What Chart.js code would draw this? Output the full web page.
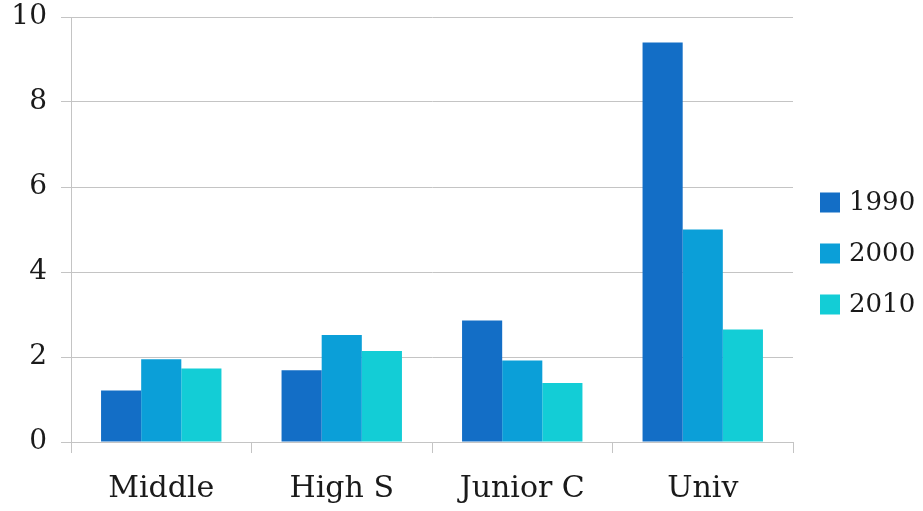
<!DOCTYPE html>
<html>
<head>
<meta charset="utf-8">
<script src="https://cdn.jsdelivr.net/npm/chart.js@4/dist/chart.umd.min.js"></script>
<style>
  html, body { margin: 0; padding: 0; background: #ffffff; }
  #wrap { width: 923px; height: 511px; }
</style>
</head>
<body>
<div id="wrap"><canvas id="c" width="923" height="511"></canvas></div>
<script>
// Categories, series and axis ticks
const categories = ['Middle', 'High S', 'Junior C', 'Univ'];
const seriesNames = ['1990', '2000', '2010'];
const values1990 = [1.21, 1.69, 2.86, 9.40];
const values2000 = [1.95, 2.52, 1.92, 5.00];
const values2010 = [1.73, 2.14, 1.39, 2.65];
const yTicks = [0, 2, 4, 6, 8, 10];

const seriesColors = ['#136ec6', '#0b9fd8', '#13cdd6'];
const gridColor = '#c4c4c4';
const textColor = '#1a1a1a';
const fontFamily = '"DejaVu Serif", "Liberation Serif", serif';

// Legend on the right, drawn from the datasets
const sideLegend = {
  id: 'sideLegend',
  afterDraw(chart) {
    const ctx = chart.ctx;
    const area = chart.chartArea;
    const x0 = area.right + 27;
    const midY = (area.top + area.bottom) / 2 + 24;
    const rowGap = 51;
    ctx.save();
    ctx.font = '26px ' + fontFamily;
    ctx.textBaseline = 'middle';
    ctx.textAlign = 'left';
    chart.data.datasets.forEach((ds, i) => {
      const y = midY + (i - 1) * rowGap;
      ctx.fillStyle = ds.backgroundColor;
      ctx.fillRect(x0, y - 10, 20, 20);
      ctx.fillStyle = textColor;
      ctx.fillText(ds.label, x0 + 29, y + 1);
    });
    ctx.restore();
  }
};

const seriesValues = [values1990, values2000, values2010];

new Chart(document.getElementById('c'), {
  type: 'bar',
  data: {
    labels: categories,
    datasets: seriesNames.map((name, i) => ({
      label: name,
      data: seriesValues[i],
      backgroundColor: seriesColors[i],
      borderWidth: 0,
      categoryPercentage: 0.667,
      barPercentage: 1.0
    }))
  },
  options: {
    responsive: false,
    animation: false,
    layout: { padding: { left: 0, right: 130, top: 17, bottom: 4 } },
    plugins: {
      legend: { display: false },
      tooltip: { enabled: false }
    },
    scales: {
      x: {
        grid: {
          offset: true,
          drawOnChartArea: false,
          drawTicks: true,
          tickLength: 11,
          color: gridColor,
          lineWidth: 1
        },
        border: { display: true, color: gridColor, width: 1 },
        ticks: {
          color: textColor,
          padding: 18,
          font: { family: fontFamily, size: 30 }
        },
        afterFit(scale) { scale.height = 65; }
      },
      y: {
        min: 0,
        max: 10,
        afterBuildTicks(scale) { scale.ticks = yTicks.map(v => ({ value: v })); },
        grid: {
          color: gridColor,
          lineWidth: 1,
          tickLength: 10
        },
        border: { display: true, color: gridColor, width: 1 },
        ticks: {
          color: textColor,
          padding: 14,
          font: { family: fontFamily, size: 28 }
        },
        afterFit(scale) {
          scale.width = 71;
          scale.paddingTop = 0;
          scale.paddingBottom = 0;
        }
      }
    }
  },
  plugins: [sideLegend]
});
</script>
</body>
</html>
